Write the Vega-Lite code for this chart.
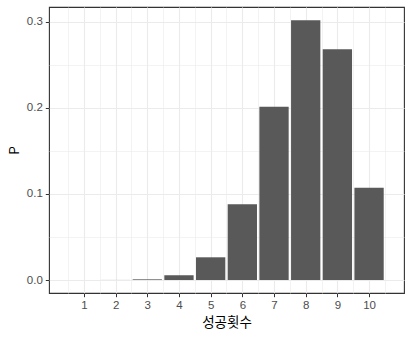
{
  "$schema": "https://vega.github.io/schema/vega-lite/v6.json",
  "autosize": "none",
  "width": 355,
  "height": 286,
  "padding": {"left": 49, "top": 7, "right": 8, "bottom": 45},
  "background": "white",
  "config": {
    "font": "Liberation Sans, Noto Sans CJK KR, sans-serif",
    "view": {"stroke": "#333333", "strokeWidth": 1.1},
    "axis": {
      "domain": false,
      "gridColor": "#ebebeb",
      "tickColor": "#333333",
      "tickSize": 3.7,
      "labelColor": "#4d4d4d",
      "labelFontSize": 11.5,
      "labelFont": "Liberation Sans",
      "titleFont": "Noto Sans CJK KR",
      "titleFontSize": 13.5,
      "titleFontWeight": "normal",
      "titleColor": "#000000"
    }
  },
  "data": {
    "values": [
      {"k": 1, "P": 0.0000041},
      {"k": 2, "P": 0.0000737},
      {"k": 3, "P": 0.000786},
      {"k": 4, "P": 0.0055},
      {"k": 5, "P": 0.0264},
      {"k": 6, "P": 0.0881},
      {"k": 7, "P": 0.2013},
      {"k": 8, "P": 0.302},
      {"k": 9, "P": 0.2684},
      {"k": 10, "P": 0.1074}
    ]
  },
  "mark": {"type": "bar", "color": "#595959", "width": 29.3},
  "encoding": {
    "x": {
      "field": "k",
      "type": "quantitative",
      "title": "성공횟수",
      "scale": {"domain": [0.055, 10.945], "nice": false, "zero": false},
      "axis": {
        "values": [0.5, 1, 1.5, 2, 2.5, 3, 3.5, 4, 4.5, 5, 5.5, 6, 6.5, 7, 7.5, 8, 8.5, 9, 9.5, 10, 10.5],
        "format": "~g",
        "labelExpr": "datum.value % 1 == 0 ? datum.label : ''",
        "tickColor": {"condition": {"test": "datum.value % 1 != 0", "value": "transparent"}, "value": "#333333"},
        "gridWidth": {"condition": {"test": "datum.value % 1 != 0", "value": 0.6}, "value": 1.1},
        "labelPadding": 3,
        "titlePadding": 4
      }
    },
    "y": {
      "field": "P",
      "type": "quantitative",
      "title": "P",
      "scale": {"domain": [-0.0151, 0.3174], "nice": false, "zero": false},
      "axis": {
        "values": [0, 0.05, 0.1, 0.15, 0.2, 0.25, 0.3],
        "format": ".1f",
        "labelExpr": "(round(datum.value * 100) % 10 == 0) ? datum.label : ''",
        "tickColor": {"condition": {"test": "round(datum.value * 100) % 10 != 0", "value": "transparent"}, "value": "#333333"},
        "gridWidth": {"condition": {"test": "round(datum.value * 100) % 10 != 0", "value": 0.6}, "value": 1.1},
        "labelPadding": 3,
        "titlePadding": 5
      }
    }
  }
}
